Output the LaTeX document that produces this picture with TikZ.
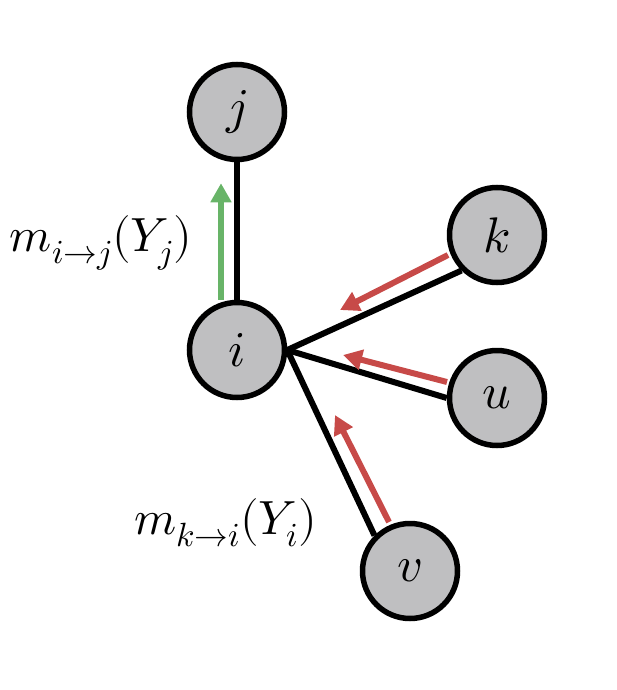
\documentclass[tikz,border=0pt]{standalone}
\usepackage{unicode-math}
\setmathfont{Latin Modern Math}
\usetikzlibrary{arrows.meta,calc,backgrounds}
\definecolor{nodegray}{RGB}{191,191,193}
\definecolor{msgred}{RGB}{199,74,72}
\definecolor{msggreen}{RGB}{104,180,104}
\begin{document}
\begin{tikzpicture}[x=1pt,y=-1pt,
  vert/.style={circle,draw=black,line width=5.5pt,fill=nodegray,minimum size=95pt,inner sep=0pt,font=\fontsize{50}{54}\selectfont},
  edge/.style={line width=6pt,black},
  msg/.style={line width=6pt,-{Triangle[length=19pt,width=20pt]}},
  lab/.style={font=\fontsize{48}{52}\selectfont,inner sep=0pt}]
\useasboundingbox (0,0) rectangle (616,690);
\node[vert] (j) at (237,112) {$j$};
\node[vert] (i) at (237,350) {$i$};
\node[vert] (k) at (497,235) {$k$};
\node[vert] (u) at (497,398) {$u$};
\node[vert] (v) at (410,571) {$v$};
\begin{scope}[on background layer]
\draw[edge] (i.north) -- (j.south);
\draw[edge] (i.east) -- (k.south west);
\draw[edge] (i.east) -- (u.west);
\draw[edge] (i.east) -- (v.north west);
\end{scope}
\coordinate (gs) at ($(i.north)+(-16,0)$);
\coordinate (ge) at ($(j.south)+(-16,21)$);
\draw[msg,msggreen] (gs) -- (ge);
\coordinate (ks) at (448,255);
\coordinate (ke) at (340,310);
\draw[msg,msgred] (ks) -- (ke);
\coordinate (us) at (447,382);
\coordinate (ue) at (343,355);
\draw[msg,msgred] (us) -- (ue);
\coordinate (vs) at (389,522);
\coordinate (ve) at (335,415);
\draw[msg,msgred] (vs) -- (ve);
\node[lab] (lij) at (101,243) {$m_{i\to j}(Y_j)$};
\node[lab] (lki) at (226,523) {$m_{k\to i}(Y_i)$};
\end{tikzpicture}
\end{document}
